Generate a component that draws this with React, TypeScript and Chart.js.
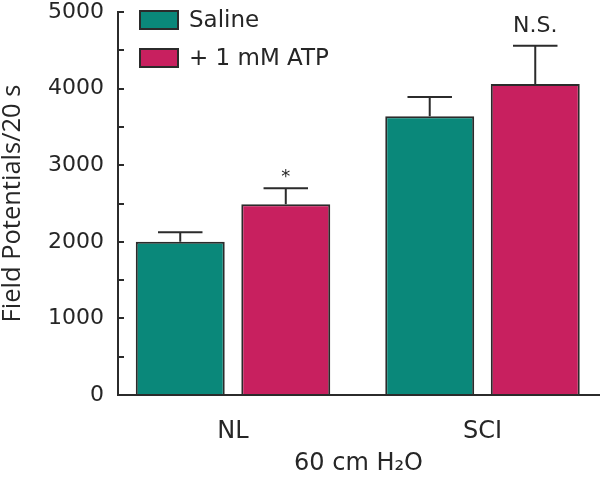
import React, { useEffect, useRef } from 'react';
import { Chart, registerables } from 'chart.js';

Chart.register(...registerables);

const categories = ['NL', 'SCI'];
const seriesLabels = ['Saline', '+ 1 mM ATP'];
const salineValues = [2000, 3640];
const salineErrors = [125, 250];
const atpValues = [2490, 4060];
const atpErrors = [210, 500];
const salineMarks = ['', ''];
const atpMarks = ['*', 'N.S.'];
const yTickLabels = ['0', '1000', '2000', '3000', '4000', '5000'];
const yAxisTitle = 'Field Potentials/20 s';
const xAxisTitle = '60 cm H₂O';

const TEXT = '#262626';
const EDGE = '#2b2b2b';
const TEAL = '#0a887a';
const MAGENTA = '#c8205f';
const FONT = "'DejaVu Sans', sans-serif";

const errorBarPlugin = {
  id: 'errorBars',
  afterDatasetsDraw(chart: any) {
    const { ctx } = chart;
    const yScale = chart.scales.y;
    chart.data.datasets.forEach((ds: any, di: number) => {
      const meta = chart.getDatasetMeta(di);
      meta.data.forEach((el: any, i: number) => {
        const v = ds.data[i].y;
        const e = ds.errors[i];
        const yTop = yScale.getPixelForValue(v + e);
        const half = el.width / 4;
        ctx.save();
        ctx.strokeStyle = EDGE;
        ctx.lineWidth = 2;
        ctx.beginPath();
        ctx.moveTo(el.x, el.y);
        ctx.lineTo(el.x, yTop);
        ctx.moveTo(el.x - half, yTop);
        ctx.lineTo(el.x + half, yTop);
        ctx.stroke();
        const mark = ds.marks[i];
        if (mark) {
          ctx.fillStyle = TEXT;
          ctx.textAlign = 'center';
          ctx.textBaseline = 'alphabetic';
          if (mark === '*') {
            ctx.font = `18px ${FONT}`;
            ctx.fillText(mark, el.x, yTop - 6);
          } else {
            ctx.font = `22px ${FONT}`;
            ctx.fillText(mark, el.x, yTop - 14);
          }
        }
        ctx.restore();
      });
    });
  },
};

const legendPlugin = {
  id: 'insideLegend',
  afterDraw(chart: any) {
    const { ctx, chartArea } = chart;
    chart.data.datasets.forEach((ds: any, i: number) => {
      const bx = chartArea.left + 21;
      const by = chartArea.top - 2 + i * 38;
      ctx.save();
      ctx.fillStyle = ds.backgroundColor;
      ctx.fillRect(bx, by, 40, 20);
      ctx.strokeStyle = EDGE;
      ctx.lineWidth = 2;
      ctx.strokeRect(bx + 1, by + 1, 38, 18);
      ctx.fillStyle = TEXT;
      ctx.font = `23px ${FONT}`;
      ctx.textAlign = 'left';
      ctx.textBaseline = 'middle';
      ctx.fillText(ds.label, bx + 50, by + 11);
      ctx.restore();
    });
  },
};

export default function App() {
  const canvasRef = useRef<HTMLCanvasElement | null>(null);

  useEffect(() => {
    document.body.style.margin = '0';
    const canvas = canvasRef.current;
    if (!canvas) return;
    const chart = new Chart(canvas, {
      type: 'bar',
      data: {
        datasets: [
          {
            label: seriesLabels[0],
            data: categories.map((_, i) => ({ x: i, y: salineValues[i] })),
            errors: salineErrors,
            marks: salineMarks,
            backgroundColor: TEAL,
            borderColor: EDGE,
            borderWidth: 2,
          } as any,
          {
            label: seriesLabels[1],
            data: categories.map((_, i) => ({ x: i, y: atpValues[i] })),
            errors: atpErrors,
            marks: atpMarks,
            backgroundColor: MAGENTA,
            borderColor: EDGE,
            borderWidth: 2,
          } as any,
        ],
      },
      options: {
        responsive: false,
        animation: false,
        devicePixelRatio: 1,
        categoryPercentage: 0.846,
        barPercentage: 0.843,
        layout: { padding: { top: 12, right: 1, bottom: 0, left: 0 } },
        plugins: {
          legend: { display: false },
          tooltip: { enabled: false },
        },
        scales: {
          x: {
            type: 'linear',
            offset: false,
            min: -0.461,
            max: 1.467,
            afterBuildTicks: (scale: any) => {
              scale.ticks = categories.map((_, i) => ({ value: i }));
            },
            afterFit: (scale: any) => {
              scale.height = 83;
              scale.paddingLeft = 0;
              scale.paddingRight = 0;
            },
            grid: { display: false },
            border: { display: true, color: EDGE, width: 2 },
            ticks: {
              autoSkip: false,
              maxRotation: 0,
              padding: 14,
              color: TEXT,
              font: { family: FONT, size: 24 },
              callback: (v: any) => categories[v] ?? '',
            },
            title: {
              display: true,
              text: xAxisTitle,
              color: TEXT,
              font: { family: FONT, size: 24 },
              padding: { top: 0, bottom: 0 },
            },
          },
          y: {
            min: 0,
            max: 5000,
            afterFit: (scale: any) => {
              scale.width = 118;
              scale.paddingTop = 0;
              scale.paddingBottom = 0;
            },
            grid: {
              display: true,
              drawOnChartArea: false,
              drawTicks: true,
              tickLength: -6,
              color: EDGE,
              lineWidth: 2,
            },
            border: { display: true, color: EDGE, width: 2 },
            ticks: {
              stepSize: 500,
              autoSkip: false,
              padding: 20,
              color: TEXT,
              font: { family: FONT, size: 22, lineHeight: 1 },
              callback: (v: any) => (v % 1000 === 0 ? yTickLabels[v / 1000] : ''),
            },
            title: {
              display: true,
              text: yAxisTitle,
              color: TEXT,
              font: { family: "'Open Sans', sans-serif", size: 25.5, lineHeight: 1 },
              padding: { top: 0, bottom: 0 },
            },
          },
        },
      },
      plugins: [errorBarPlugin, legendPlugin],
    } as any);
    return () => chart.destroy();
  }, []);

  return (
    <div style={{ width: 600, height: 478 }}>
      <canvas ref={canvasRef} width={600} height={478} />
    </div>
  );
}
